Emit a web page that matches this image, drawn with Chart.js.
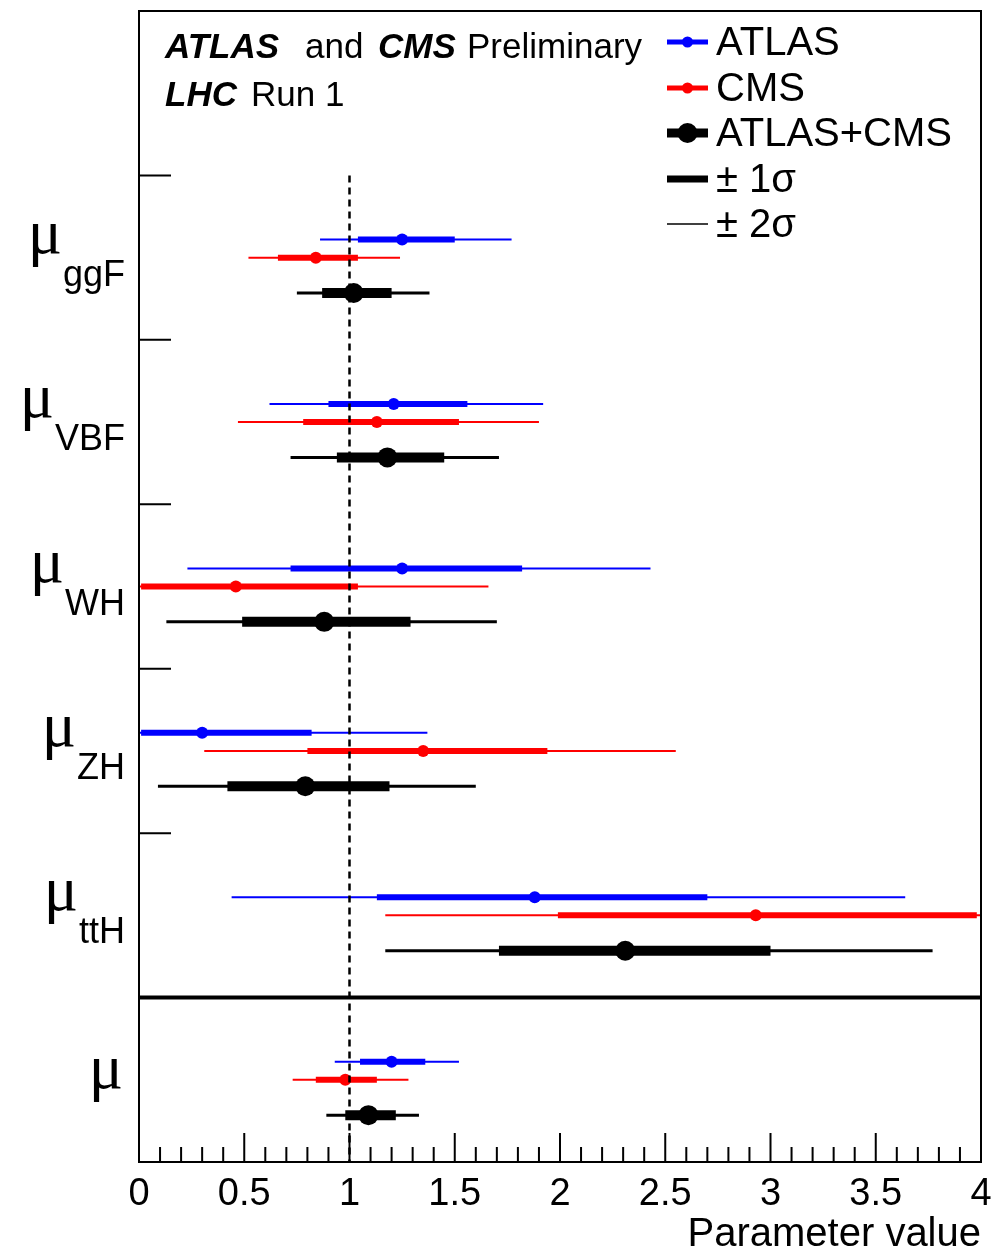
<!DOCTYPE html>
<html>
<head>
<meta charset="utf-8">
<script src="https://cdn.jsdelivr.net/npm/chart.js@4/dist/chart.umd.min.js"></script>
<style>
  html, body { margin: 0; padding: 0; background: #fff; }
  canvas { display: block; }
</style>
</head>
<body>
<canvas id="canvas" width="992" height="1252"></canvas>
<script>
// production modes, top to bottom ("" = global signal strength)
const categories = ["ggF", "VBF", "WH", "ZH", "ttH", ""];
const xTickLabels = ["0", "0.5", "1", "1.5", "2", "2.5", "3", "3.5", "4"];

// best fit and 1 sigma / 2 sigma intervals
const atlasValue = [1.25, 1.21, 1.25, 0.30, 1.88, 1.20];
const atlasLo1 = [1.04, 0.90, 0.72, 0.01, 1.13, 1.05];
const atlasHi1 = [1.50, 1.56, 1.82, 0.82, 2.70, 1.36];
const atlasLo2 = [0.86, 0.62, 0.23, -0.30, 0.44, 0.93];
const atlasHi2 = [1.77, 1.92, 2.43, 1.37, 3.64, 1.52];

const cmsValue = [0.84, 1.13, 0.46, 1.35, 2.93, 0.98];
const cmsLo1 = [0.66, 0.78, 0.01, 0.80, 1.99, 0.84];
const cmsHi1 = [1.04, 1.52, 1.04, 1.94, 3.98, 1.13];
const cmsLo2 = [0.52, 0.47, -0.40, 0.31, 1.17, 0.73];
const cmsHi2 = [1.24, 1.90, 1.66, 2.55, 4.80, 1.28];

const combValue = [1.02, 1.18, 0.88, 0.79, 2.31, 1.09];
const combLo1 = [0.87, 0.94, 0.49, 0.42, 1.71, 0.98];
const combHi1 = [1.20, 1.45, 1.29, 1.19, 3.00, 1.22];
const combLo2 = [0.75, 0.72, 0.13, 0.09, 1.17, 0.89];
const combHi2 = [1.38, 1.71, 1.70, 1.60, 3.77, 1.33];

const FONT = "'Liberation Sans', Arial, Helvetica, sans-serif";
const SERIF = "'Liberation Serif', 'DejaVu Serif', serif";

const experiments = [
  { name: "ATLAS", color: "#0000ff", offset: 0.39, thin: 2, thick: 6, radius: 6,
    value: atlasValue, lo1: atlasLo1, hi1: atlasHi1, lo2: atlasLo2, hi2: atlasHi2 },
  { name: "CMS", color: "#ff0000", offset: 0.50, thin: 2, thick: 6, radius: 6,
    value: cmsValue, lo1: cmsLo1, hi1: cmsHi1, lo2: cmsLo2, hi2: cmsHi2 },
  { name: "ATLAS+CMS", color: "#000000", offset: 0.715, thin: 3, thick: 10, radius: 10,
    value: combValue, lo1: combLo1, hi1: combHi1, lo2: combLo2, hi2: combHi2 },
];

const datasets = [];
experiments.forEach((e) => {
  categories.forEach((c, i) => {
    const y = i + 1 + e.offset;
    datasets.push({
      data: [{ x: e.lo2[i], y }, { x: e.hi2[i], y }],
      showLine: true, borderColor: e.color, borderWidth: e.thin,
      pointRadius: 0, clip: 0, order: 3,
    });
    datasets.push({
      data: [{ x: e.lo1[i], y }, { x: e.hi1[i], y }],
      showLine: true, borderColor: e.color, borderWidth: e.thick,
      pointRadius: 0, clip: 0, order: 2,
    });
  });
  datasets.push({
    label: e.name,
    data: categories.map((c, i) => ({ x: e.value[i], y: i + 1 + e.offset })),
    showLine: false, pointRadius: e.radius, pointHoverRadius: e.radius,
    backgroundColor: e.color, borderWidth: 0, order: 1,
  });
});

// SM expectation and separator above the global mu
datasets.push({
  data: [{ x: 1, y: 1 }, { x: 1, y: 7 }],
  showLine: true, borderColor: "#000", borderWidth: 2.5, borderDash: [7, 5],
  pointRadius: 0, clip: 0, order: 0,
});
datasets.push({
  data: [{ x: 0, y: 6 }, { x: 4, y: 6 }],
  showLine: true, borderColor: "#000", borderWidth: 4,
  pointRadius: 0, clip: 0, order: 0,
});

const decorations = {
  id: "decorations",
  afterDraw(chart) {
    const { ctx, chartArea: a, scales } = chart;
    const xs = scales.x, ys = scales.y;
    ctx.save();
    ctx.strokeStyle = "#000";
    ctx.lineWidth = 2;
    ctx.strokeRect(a.left, a.top, a.right - a.left, a.bottom - a.top);

    // x ticks pointing inwards
    ctx.beginPath();
    xs.ticks.forEach((t) => {
      const px = xs.getPixelForValue(t.value);
      const len = t.label ? 29 : 15;
      ctx.moveTo(px, a.bottom);
      ctx.lineTo(px, a.bottom - len);
    });
    // y ticks at bin edges
    for (let v = 0; v <= 5; v++) {
      const py = ys.getPixelForValue(v);
      ctx.moveTo(a.left, py);
      ctx.lineTo(a.left + 32, py);
    }
    ctx.stroke();

    // category labels
    ctx.fillStyle = "#000";
    ctx.textBaseline = "alphabetic";
    categories.forEach((c, i) => {
      const cy = ys.getPixelForValue(i + 1.5);
      ctx.textAlign = "right";
      if (c) {
        ctx.font = "36px " + FONT;
        ctx.fillText(c, 125, cy + 28);
        const w = ctx.measureText(c).width;
        ctx.font = "64px " + SERIF;
        ctx.fillText("\u03bc", 125 - w - 1, cy - 5);
      } else {
        ctx.font = "64px " + SERIF;
        ctx.fillText("\u03bc", 123, cy + 8);
      }
    });

    // header
    ctx.textAlign = "left";
    ctx.font = "italic bold 35px " + FONT;
    ctx.fillText("ATLAS", 165, 58);
    ctx.fillText("CMS", 378, 58);
    ctx.fillText("LHC", 165, 106);
    ctx.font = "35px " + FONT;
    ctx.fillText("and", 305, 58);
    ctx.fillText("Preliminary", 467, 58);
    ctx.fillText("Run 1", 251, 106);

    // legend
    const lx0 = 667, lx1 = 708, tx = 716;
    const rows = [
      { text: "ATLAS", color: "#0000ff", width: 5, radius: 5.5, y: 42 },
      { text: "CMS", color: "#ff0000", width: 5, radius: 5.5, y: 88 },
      { text: "ATLAS+CMS", color: "#000", width: 9, radius: 10, y: 133 },
      { text: "\u00b1 1\u03c3", color: "#000", width: 7, radius: 0, y: 179 },
      { text: "\u00b1 2\u03c3", color: "#000", width: 1.5, radius: 0, y: 224 },
    ];
    ctx.font = "40px " + FONT;
    rows.forEach((r) => {
      ctx.strokeStyle = r.color;
      ctx.lineWidth = r.width;
      ctx.beginPath();
      ctx.moveTo(lx0, r.y);
      ctx.lineTo(lx1, r.y);
      ctx.stroke();
      if (r.radius) {
        ctx.fillStyle = r.color;
        ctx.beginPath();
        ctx.arc((lx0 + lx1) / 2, r.y, r.radius, 0, Math.PI * 2);
        ctx.fill();
      }
      ctx.fillStyle = "#000";
      ctx.fillText(r.text, tx, r.y + 13);
    });
    ctx.restore();
  },
};

new Chart(document.getElementById("canvas").getContext("2d"), {
  type: "scatter",
  data: { datasets },
  options: {
    responsive: false,
    animation: false,
    layout: { padding: { left: 139, right: 11, top: 11, bottom: 0 } },
    plugins: { legend: { display: false }, tooltip: { enabled: false } },
    scales: {
      x: {
        type: "linear",
        min: 0,
        max: 4,
        grid: { display: false, drawTicks: false },
        border: { display: false },
        ticks: {
          stepSize: 0.1,
          autoSkip: false,
          maxRotation: 0,
          padding: 10,
          color: "#000",
          font: { size: 38, family: FONT },
          callback: (value) => {
            const k = value * 2;
            return Math.abs(k - Math.round(k)) < 1e-6 ? xTickLabels[Math.round(k)] : "";
          },
        },
        title: {
          display: true,
          text: "Parameter value",
          align: "end",
          color: "#000",
          font: { size: 40, family: FONT, lineHeight: 0.85 },
          padding: { top: 0, bottom: 0 },
        },
        afterFit: (scale) => {
          scale.height = 90;
          scale.paddingLeft = 0;
          scale.paddingRight = 0;
        },
      },
      y: {
        type: "linear",
        min: 0,
        max: 7,
        reverse: true,
        display: false,
      },
    },
  },
  plugins: [decorations],
});
</script>
</body>
</html>
